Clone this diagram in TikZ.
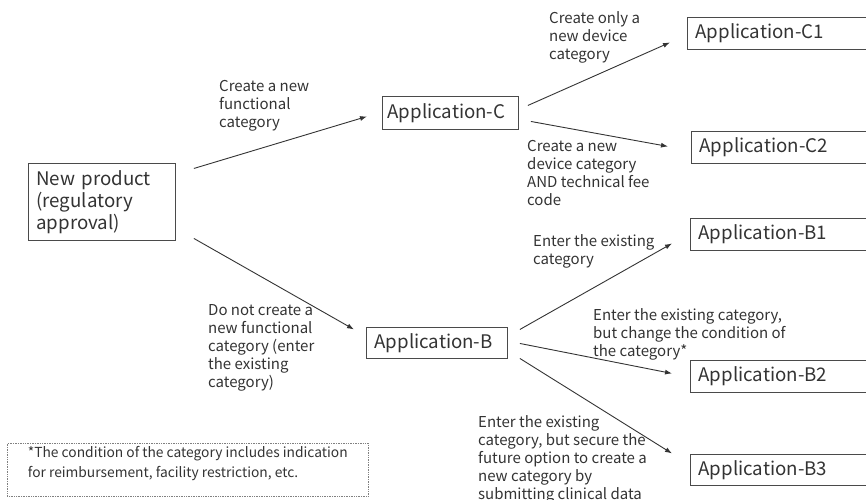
\documentclass[tikz,border=0pt]{standalone}
\usepackage{fontspec}
\setmainfont{Noto Sans CJK JP}
\usepackage{xcolor}
\usepackage{tikz}
\usetikzlibrary{positioning,arrows.meta}
\definecolor{ink}{HTML}{333333}
\definecolor{edge}{HTML}{4A4A4A}
\hyphenpenalty=10000
\exhyphenpenalty=10000

\begin{document}
\begin{tikzpicture}[
    x=1pt,y=-1pt,
    box/.style={draw=edge,line width=0.9pt,anchor=north west,align=left,inner xsep=8pt,inner ysep=0pt,
      text=ink,font=\fontsize{18.7}{22}\selectfont},
    lbl/.style={anchor=north west,align=left,inner sep=0pt,text=ink,font=\fontsize{15}{18}\selectfont},
    arr/.style={draw=ink,line width=0.9pt,-{Latex[length=7pt,width=5pt]}},
    node distance=4mm
  ]
    \useasboundingbox (0,0) rectangle (866,499);
    \node[box,text width=131pt,minimum height=77pt] (newprod) at (28,163) {New product\\(regulatory\\approval)};
    \node[box,text width=126pt,minimum height=33pt,inner xsep=5pt] (appC) at (382,96) {Application-C};
    \node[box,text width=125pt,minimum height=31pt] (appB) at (366,327) {Application-B};
    \node[box,text width=184pt,minimum height=32pt] (appCa) at (687,17) {Application-C1};
    \node[box,text width=184pt,minimum height=32pt] (appCb) at (691,131) {Application-C2};
    \node[box,text width=184pt,minimum height=32pt] (appBa) at (690,218) {Application-B1};
    \node[box,text width=184pt,minimum height=32pt] (appBb) at (690,360) {Application-B2};
    \node[box,text width=184pt,minimum height=31pt] (appBc) at (690,454) {Application-B3};
    \node[box,draw=gray,line width=0.6pt,dash pattern=on 1pt off 0.7pt,minimum width=361pt,minimum height=53pt,
      inner xsep=6pt,font=\fontsize{13.8}{20}\selectfont] (note) at (7,443)
      {*The condition of the category includes indication\\for reimbursement, facility restriction, etc.\\[-5pt]};

    \node[lbl] (lblC) at (219,80) {Create a new\\functional\\category};
    \node[lbl] (lblB) at (208,304) {Do not create a\\new functional\\category (enter\\the existing\\category)};
    \node[lbl] (lblCa) at (549,11) {Create only a\\new device\\category};
    \node[lbl] (lblCb) at (527,140) {Create a new\\device category\\AND technical fee\\code};
    \node[lbl] (lblBa) at (533,234) {Enter the existing\\category};
    \node[lbl] (lblBb) at (593,308) {Enter the existing category,\\but change the condition of\\the category*};
    \node[lbl] (lblBc) at (478,415) {Enter the existing\\category, but secure the\\future option to create a\\new category by\\submitting clinical data};

    \draw[arr] ([shift={(18,-33.5)}]newprod.east) -- ([shift={(-15,3.5)}]appC.west);
    \draw[arr] ([shift={(18,36.5)}]newprod.east) -- ([shift={(-12,-13.5)}]appB.west);
    \draw[arr] ([shift={(9,-7.5)}]appC.east) -- ([shift={(-17,9)}]appCa.west);
    \draw[arr] ([shift={(12,8.5)}]appC.east) -- ([shift={(-23,-1)}]appCb.west);
    \draw[arr] ([shift={(12,-13.5)}]appB.east) -- ([shift={(-18,9)}]appBa.west);
    \draw[arr] ([shift={(12,0.5)}]appB.east) -- ([shift={(-18,-3)}]appBb.west);
    \draw[arr] ([shift={(12,15.5)}]appB.east) -- ([shift={(-18,-16.5)}]appBc.west);
  \end{tikzpicture}
\end{document}
